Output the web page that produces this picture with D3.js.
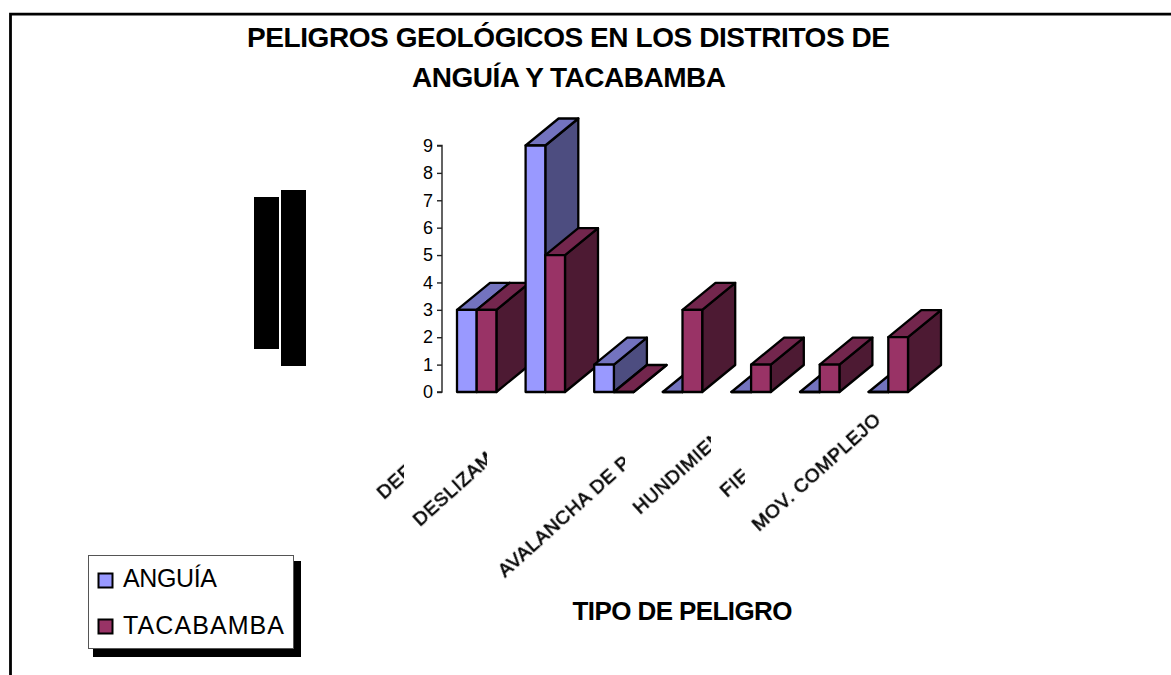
<!DOCTYPE html>
<html>
<head>
<meta charset="utf-8">
<script src="https://cdn.jsdelivr.net/npm/d3@7"></script>
<style>
  html, body { margin: 0; padding: 0; background: #fff; }
  svg { display: block; }
  text { font-family: "Liberation Sans", Arial, sans-serif; fill: #000; }
</style>
</head>
<body>
<svg id="chart" width="1171" height="675"></svg>
<script>
// Chart content
const titleLines = ["PELIGROS GEOLÓGICOS EN LOS DISTRITOS DE", "ANGUÍA Y TACABAMBA"];
const xAxisTitle = "TIPO DE PELIGRO";
const seriesNames = ["ANGUÍA", "TACABAMBA"];
const groups = ["g1", "g2", "g3", "g4", "g5", "g6", "g7"];
const anguia =    [3, 9, 1, 0, 0, 0, 0];
const tacabamba = [3, 5, 0, 3, 1, 1, 2];
const yTicks = [0, 1, 2, 3, 4, 5, 6, 7, 8, 9];
const categoryLabels = ["DEF", "DESLIZAM", "AVALANCHA DE P", "HUNDIMIEN", "FIE", "MOV. COMPLEJO"];

// Label start point (x, y) and the x at which each label is cut off
const labelAnchors = [[384, 500, 404], [420, 527, 487], [505, 578, 625], [640, 515, 711], [727, 498, 745], [759, 532, 882]];
const seriesFaces = [
  { front: "#9999ff", top: "#7373bf", side: "#4d4d80" },
  { front: "#993366", top: "#73264d", side: "#4d1a33" }
];

const svg = d3.select("#chart");
const plot = { left: 442, bottom: 392, top: 145.5 };
const depth = { dx: 33, dy: -27 };
const barWidth = 19.7;

const y = d3.scaleLinear().domain([0, 9]).range([plot.bottom, plot.top]);
const x = d3.scaleBand().domain(groups).range([457, 457 + 7 * 68.6]).padding(0);

// Page frame: only the top and left edges fall inside the view
svg.append("path")
  .attr("d", "M10.5,675 V14.2 H1171")
  .attr("fill", "none").attr("stroke", "#000").attr("stroke-width", 2.8);

// Title
svg.append("g").selectAll("text").data(titleLines).join("text")
  .attr("x", (d, i) => i ? 569 : 568.5)
  .attr("y", (d, i) => 47 + i * 40)
  .attr("text-anchor", "middle")
  .attr("font-size", 28).attr("font-weight", 700)
  .attr("textLength", (d, i) => i ? 314 : 643)
  .attr("lengthAdjust", "spacing")
  .text(d => d);

// Solid blocks in place of the vertical axis title
const blocks = svg.append("g");
blocks.append("rect").attr("x", 254).attr("y", 197).attr("width", 25).attr("height", 152);
blocks.append("rect").attr("x", 281).attr("y", 190).attr("width", 25).attr("height", 176);

// Value axis
const yAxis = d3.axisLeft(y).tickValues(yTicks).tickFormat(d3.format("d")).tickSize(5).tickPadding(4);
const axisG = svg.append("g").attr("transform", `translate(${plot.left},0)`).call(yAxis);
axisG.selectAll("path, line").attr("stroke", "#222").attr("stroke-width", 1.4);
axisG.select(".domain").attr("d", `M-5,${plot.top}H0V${plot.bottom}H-5`);
axisG.selectAll("text").attr("font-size", 18).attr("fill", "#111");

// 3-D columns, blue then red within each group so nearer faces overlap
function column(g, x0, value, face) {
  const yTop = y(value), yBase = y(0), x1 = x0 + barWidth;
  const { dx, dy } = depth;
  const poly = (pts, fill) => g.append("polygon")
    .attr("points", pts.map(p => p.join(",")).join(" "))
    .attr("fill", fill).attr("stroke", "#000").attr("stroke-width", 2.3)
    .attr("stroke-linejoin", "round");
  poly([[x1, yBase], [x1 + dx, yBase + dy], [x1 + dx, yTop + dy], [x1, yTop]], face.side);
  poly([[x0, yTop], [x0 + dx, yTop + dy], [x1 + dx, yTop + dy], [x1, yTop]], face.top);
  poly([[x0, yBase], [x1, yBase], [x1, yTop], [x0, yTop]], face.front);
}

const bars = svg.append("g");
groups.forEach((name, i) => {
  const g = bars.append("g").attr("class", name);
  column(g, x(name), anguia[i], seriesFaces[0]);
  column(g, x(name) + barWidth, tacabamba[i], seriesFaces[1]);
});

// Slanted category labels, each cut off on the right by a vertical edge
const defs = svg.append("defs");
defs.append("filter").attr("id", "soften")
  .attr("x", "-10%").attr("y", "-10%").attr("width", "120%").attr("height", "120%")
  .append("feGaussianBlur").attr("stdDeviation", 0.45);
categoryLabels.forEach((label, i) => {
  const [lx, ly, cut] = labelAnchors[i];
  defs.append("clipPath").attr("id", `cut${i}`)
    .append("rect").attr("x", 0).attr("y", 380).attr("width", cut).attr("height", 295);
  svg.append("g").attr("clip-path", `url(#cut${i})`)
    .append("text")
    .attr("transform", `translate(${lx},${ly}) rotate(-42)`)
    .attr("font-size", 19)
    .attr("letter-spacing", 0.7)
    .attr("stroke", "#000").attr("stroke-width", 0.6)
    .attr("filter", "url(#soften)")
    .text(label);
});

// X axis title
svg.append("text")
  .attr("x", 682.5).attr("y", 620).attr("text-anchor", "middle")
  .attr("font-size", 26).attr("font-weight", 700)
  .attr("textLength", 220).attr("lengthAdjust", "spacing")
  .text(xAxisTitle);

// Legend with drop shadow
const legend = svg.append("g");
legend.append("rect").attr("x", 93).attr("y", 561).attr("width", 208).attr("height", 96).attr("fill", "#000");
legend.append("rect").attr("x", 88.5).attr("y", 555.5).attr("width", 205).attr("height", 93)
  .attr("fill", "#fff").attr("stroke", "#555").attr("stroke-width", 1);
seriesNames.forEach((name, i) => {
  const cy = 580.5 + i * 46;
  legend.append("rect").attr("x", 98.5).attr("y", cy - 7).attr("width", 14).attr("height", 14)
    .attr("fill", seriesFaces[i].front).attr("stroke", "#000").attr("stroke-width", 2);
  legend.append("text").attr("x", 123).attr("y", cy + 6.5 + i)
    .attr("font-size", 25)
    .attr("textLength", i ? 161 : 94).attr("lengthAdjust", "spacing")
    .text(name);
});
</script>
</body>
</html>
